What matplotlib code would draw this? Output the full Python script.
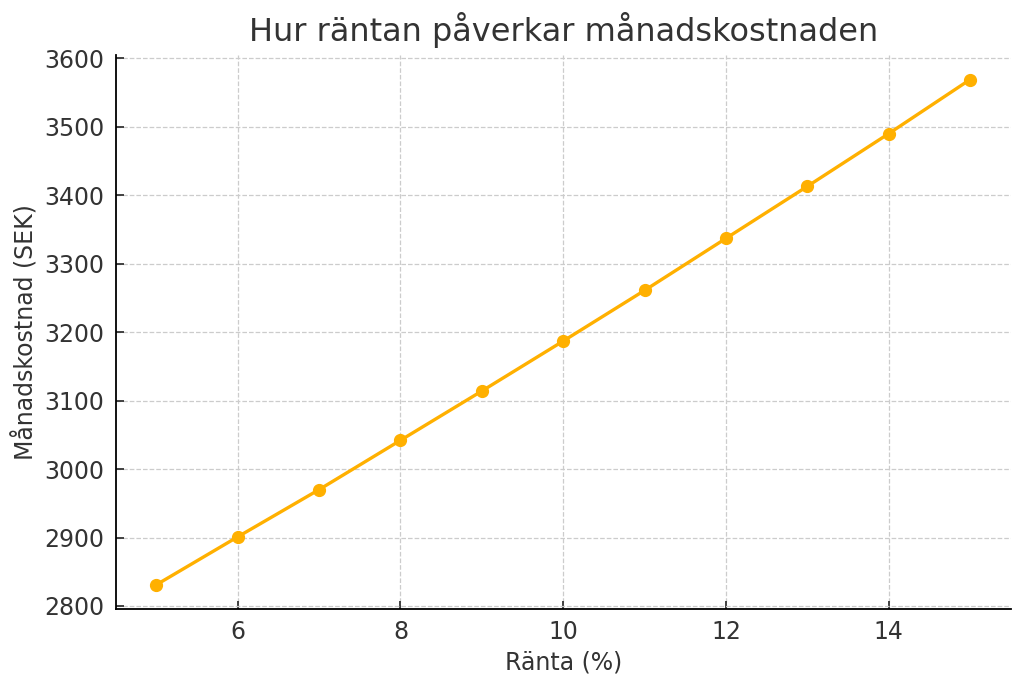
import matplotlib
matplotlib.use("Agg")
import matplotlib.pyplot as plt

# Data
ranta = [5, 6, 7, 8, 9, 10, 11, 12, 13, 14, 15]
kostnad = [2831, 2901, 2970, 3042, 3114, 3187, 3261, 3337, 3413, 3490, 3569]

plt.rcParams['font.family'] = ['DejaVu Sans']
plt.rcParams['text.color'] = '#333333'
plt.rcParams['axes.labelcolor'] = '#333333'
plt.rcParams['xtick.color'] = '#333333'
plt.rcParams['ytick.color'] = '#333333'

fig, ax = plt.subplots(figsize=(10.24, 6.87), dpi=100)
ax.plot(ranta, kostnad, marker='o', color='#FFB000', linewidth=2.4, markersize=8.5)

ax.set_title("Hur räntan påverkar månadskostnaden", fontsize=23, pad=10)
ax.set_xlabel("Ränta (%)", fontsize=17, labelpad=4)
ax.set_ylabel("Månadskostnad (SEK)", fontsize=17)
ax.tick_params(labelsize=17, length=6, width=1.3, direction='in', pad=8)
ax.set_ylim(2795, 3605)
ax.grid(True, linestyle='--', color='#cccccc', linewidth=0.9)
ax.spines['top'].set_visible(False)
ax.spines['right'].set_visible(False)
ax.spines['left'].set_linewidth(1.3)
ax.spines['bottom'].set_linewidth(1.3)

plt.subplots_adjust(left=0.113, right=0.987, top=0.92, bottom=0.113)
plt.savefig("out.png", dpi=100)
